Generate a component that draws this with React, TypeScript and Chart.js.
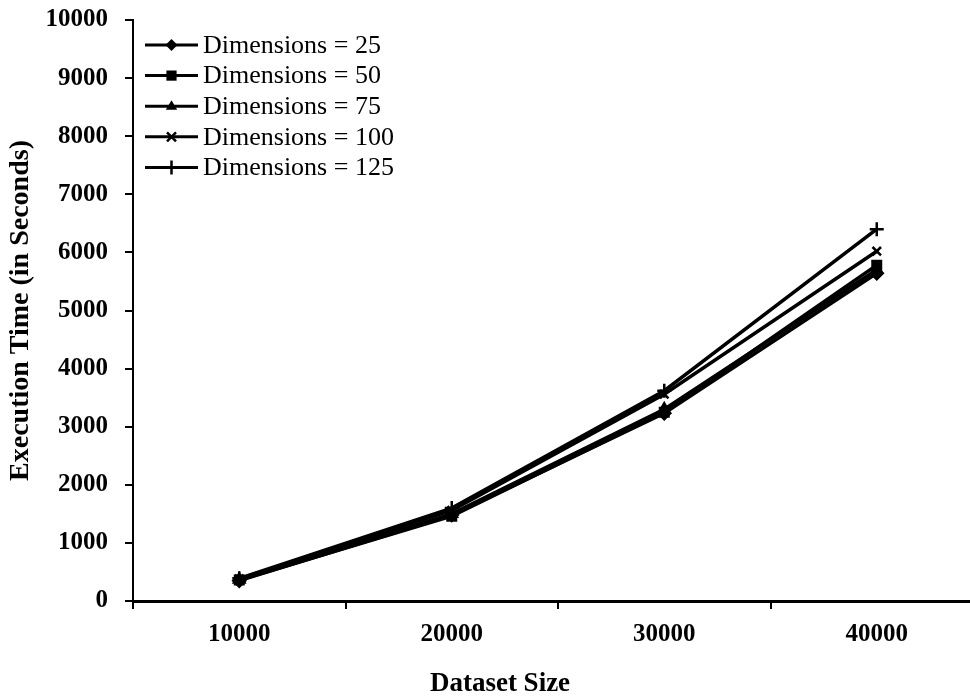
import React, { useEffect, useRef } from 'react';
import { Chart, registerables } from 'chart.js';

Chart.register(...registerables);

const categories = ['10000', '20000', '30000', '40000'];
const seriesLabels = [
  'Dimensions = 25',
  'Dimensions = 50',
  'Dimensions = 75',
  'Dimensions = 100',
  'Dimensions = 125',
];
const dim25 = [350, 1480, 3230, 5640];
const dim50 = [360, 1460, 3250, 5780];
const dim75 = [370, 1500, 3300, 5700];
const dim100 = [380, 1560, 3560, 6020];
const dim125 = [390, 1600, 3620, 6400];
const seriesValues = [dim25, dim50, dim75, dim100, dim125];
const pointStyles = ['rectRot', 'rect', 'triangle', 'crossRot', 'cross'];
const pointRadii = [6, 6, 6, 6, 7];
const xTitle = 'Dataset Size';
const yTitle = 'Execution Time (in Seconds)';

const FONT = '"Liberation Serif", "Times New Roman", serif';

function drawMarker(ctx: CanvasRenderingContext2D, style: string, x: number, y: number, r: number) {
  ctx.beginPath();
  if (style === 'rectRot') {
    ctx.moveTo(x, y - r);
    ctx.lineTo(x + r, y);
    ctx.lineTo(x, y + r);
    ctx.lineTo(x - r, y);
    ctx.closePath();
    ctx.fill();
  } else if (style === 'rect') {
    const s = r * 0.85;
    ctx.rect(x - s, y - s, 2 * s, 2 * s);
    ctx.fill();
  } else if (style === 'triangle') {
    ctx.moveTo(x, y - r);
    ctx.lineTo(x + r * 0.95, y + r * 0.6);
    ctx.lineTo(x - r * 0.95, y + r * 0.6);
    ctx.closePath();
    ctx.fill();
  } else if (style === 'crossRot') {
    const d = r * 0.75;
    ctx.moveTo(x - d, y - d);
    ctx.lineTo(x + d, y + d);
    ctx.moveTo(x + d, y - d);
    ctx.lineTo(x - d, y + d);
    ctx.stroke();
  } else {
    ctx.moveTo(x - r, y);
    ctx.lineTo(x + r, y);
    ctx.moveTo(x, y - r);
    ctx.lineTo(x, y + r);
    ctx.stroke();
  }
}

const insideLegend = {
  id: 'insideLegend',
  afterDraw(chart: any) {
    const ctx: CanvasRenderingContext2D = chart.ctx;
    const { left, top } = chart.chartArea;
    ctx.save();
    ctx.fillStyle = '#000';
    ctx.strokeStyle = '#000';
    ctx.font = `26px ${FONT}`;
    ctx.textBaseline = 'middle';
    ctx.textAlign = 'left';
    chart.data.datasets.forEach((ds: any, i: number) => {
      const y = top + 25 + i * 30.6;
      const x0 = left + 12;
      const x1 = left + 65;
      ctx.lineWidth = 3;
      ctx.beginPath();
      ctx.moveTo(x0, y);
      ctx.lineTo(x1, y);
      ctx.stroke();
      ctx.lineWidth = 2.5;
      drawMarker(ctx, ds.pointStyle, (x0 + x1) / 2, y, ds.pointRadius);
      ctx.fillText(ds.label, x1 + 5, y + 1);
    });
    // x-axis title (placed like the original, left of the plot centre)
    ctx.font = `bold 27px ${FONT}`;
    ctx.textAlign = 'center';
    ctx.fillText(xTitle, 500, 684);
    ctx.restore();
  },
};

export default function App() {
  const ref = useRef<HTMLCanvasElement | null>(null);

  useEffect(() => {
    const canvas = ref.current;
    if (!canvas) return;
    const tickFont = { family: FONT, size: 25, weight: 'bold' as const };
    const titleFont = { family: FONT, size: 28, weight: 'bold' as const };
    const chart = new Chart(canvas, {
      type: 'line',
      data: {
        labels: categories,
        datasets: seriesValues.map((vals, i) => ({
          label: seriesLabels[i],
          data: vals,
          borderColor: '#000',
          backgroundColor: '#000',
          borderWidth: 3.5,
          pointStyle: pointStyles[i] as any,
          pointRadius: pointRadii[i],
          pointBorderWidth: 2.5,
          pointBackgroundColor: '#000',
          pointBorderColor: '#000',
          tension: 0,
          fill: false,
        })),
      },
      options: {
        responsive: false,
        animation: false,
        devicePixelRatio: 1,
        layout: { autoPadding: false, padding: { left: 0, right: 7, top: 20, bottom: 0 } },
        plugins: {
          legend: { display: false },
          tooltip: { enabled: false },
        },
        scales: {
          x: {
            type: 'category',
            offset: true,
            grid: {
              offset: true,
              drawOnChartArea: false,
              drawTicks: true,
              tickLength: 8,
              color: '#000',
              lineWidth: 2,
            },
            border: { display: true, color: '#000', width: 3 },
            ticks: { color: '#000', font: tickFont, padding: 11 },
            title: { display: false, text: xTitle },
            afterFit(scale: any) {
              scale.height = 100;
              scale.paddingLeft = 0;
              scale.paddingRight = 0;
            },
          },
          y: {
            min: 0,
            max: 10000,
            grid: {
              drawOnChartArea: false,
              drawTicks: true,
              tickLength: 8,
              color: '#000',
              lineWidth: 2,
            },
            border: { display: true, color: '#000', width: 2 },
            ticks: {
              stepSize: 1000,
              color: '#000',
              font: tickFont,
              padding: 17,
              callback: (v: any) => String(v),
            },
            title: {
              display: true,
              text: yTitle,
              color: '#000',
              font: titleFont,
              padding: { top: 4, bottom: 0 },
            },
            afterFit(scale: any) {
              scale.width = 133;
              scale.paddingTop = 0;
              scale.paddingBottom = 0;
            },
          },
        },
      },
      plugins: [insideLegend],
    });
    return () => chart.destroy();
  }, []);

  return (
    <div
      style={{
        position: 'absolute',
        left: 0,
        top: 0,
        width: 970,
        height: 697,
        overflow: 'hidden',
        background: '#fff',
      }}
    >
      <canvas ref={ref} width={990} height={701} />
    </div>
  );
}
